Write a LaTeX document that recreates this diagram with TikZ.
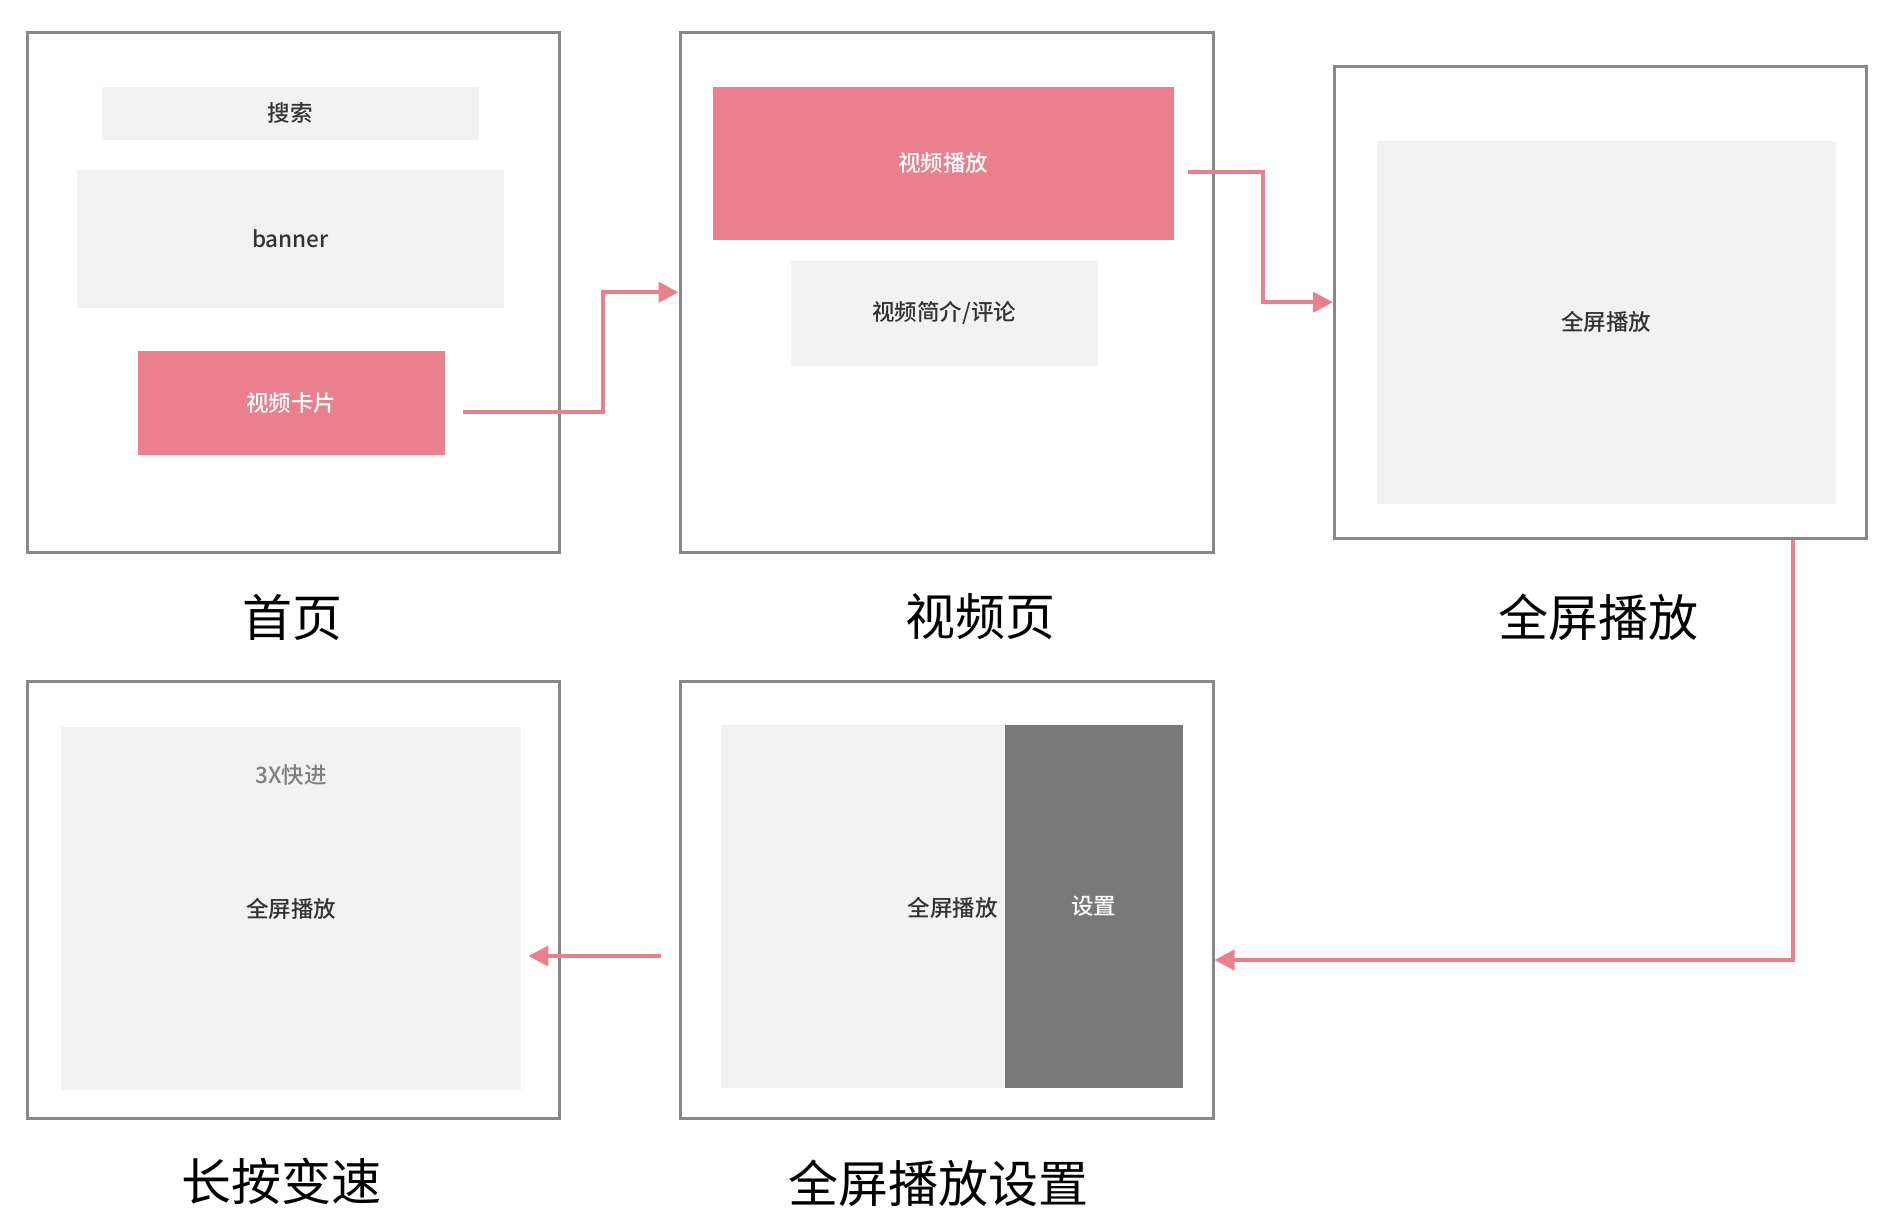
\documentclass[tikz,border=0pt]{standalone}
\usepackage{fontspec}
\setmainfont{Noto Sans CJK SC}
\newfontfamily\labelfont{Noto Sans CJK SC}[UprightFont={* Medium}]
\usetikzlibrary{arrows.meta}
\definecolor{framegray}{RGB}{136,136,136}
\definecolor{lightfill}{RGB}{242,242,242}
\definecolor{pinkfill}{RGB}{234,128,139}
\definecolor{darkfill}{RGB}{121,121,121}
\definecolor{textdark}{RGB}{51,51,51}
\definecolor{textgray}{RGB}{128,128,128}
\begin{document}
\begin{tikzpicture}[x=0.5pt,y=-0.5pt,
  frame/.style={draw=framegray,line width=1.5pt,fill=white,inner sep=0pt},
  lightbox/.style={fill=lightfill,draw=none,inner sep=0pt,text=textdark,font=\labelfont\fontsize{11.25pt}{13pt}\selectfont},
  pinkbox/.style={fill=pinkfill,draw=none,inner sep=0pt,text=white,font=\labelfont\fontsize{11.25pt}{13pt}\selectfont},
  darkbox/.style={fill=darkfill,draw=none,inner sep=0pt,text=white,font=\labelfont\fontsize{11.25pt}{13pt}\selectfont},
  smalltext/.style={inner sep=0pt,text=textdark,font=\labelfont\fontsize{11.25pt}{13pt}\selectfont},
  title/.style={inner sep=0pt,text=black,font=\fontsize{25pt}{30pt}\selectfont},
  flow/.style={draw=pinkfill,line width=2pt,-{Triangle[length=10pt,width=10pt]}}
]
\useasboundingbox (0,0) rectangle (1900,1222);

% frames
\node[frame,minimum width=266pt,minimum height=259.75pt] (box1) at (293,292.25) {};
\node[frame,minimum width=266.5pt,minimum height=259.75pt] (box2) at (946.5,292.25) {};
\node[frame,minimum width=266pt,minimum height=235.85pt] (box3) at (1600.5,302.2) {};
\node[frame,minimum width=266pt,minimum height=218.5pt] (box4) at (293,899.5) {};
\node[frame,minimum width=266.5pt,minimum height=218.5pt] (box5) at (946.5,899.5) {};

% box1 content
\node[lightbox,minimum width=188.3pt,minimum height=26.75pt] (search) at (290.3,113.25) {搜索};
\node[lightbox,minimum width=213.6pt,minimum height=69.25pt] (banner) at (290.4,238.75) {banner};
\node[pinkbox,minimum width=153.3pt,minimum height=52pt] (card) at (291.3,403) {视频卡片};

% box2 content
\node[pinkbox,minimum width=230.3pt,minimum height=76.5pt] (play) at (943.3,163) {视频播放};
\node[lightbox,minimum width=153.5pt,minimum height=52.25pt] (intro) at (944.2,313.25) {视频简介/评论};

% box3 content
\node[lightbox,minimum width=229.65pt,minimum height=181.3pt] (fs3) at (1606.2,322.3) {全屏播放};

% box4 content
\node[lightbox,minimum width=230.2pt,minimum height=181.5pt] (fs4) at (291.2,908.5) {};
\node[smalltext,text=textgray] (fast) at (291,775) {3X快进};
\node[smalltext] (fs4text) at (291,909) {全屏播放};

% box5 content
\node[lightbox,minimum width=141.8pt,minimum height=181.5pt] (fs5) at (863.2,906.2) {};
\node[darkbox,minimum width=88.8pt,minimum height=181.5pt] (set5) at (1093.8,906.5) {设置};
\node[smalltext,anchor=east] (fs5text) at (998,908) {全屏播放};

% titles
\node[title] (t1) at (292,617) {首页};
\node[title] (t2) at (980,617) {视频页};
\node[title] (t3) at (1598,617) {全屏播放};
\node[title] (t4) at (281,1181) {长按变速};
\node[title] (t5) at (938,1183) {全屏播放设置};

% connectors
\coordinate (a1) at ([xshift=9pt,yshift=-4.5pt]card.east);
\draw[flow] (a1) -- ++(139.6,0) |- (box2.west);

\coordinate (a2) at ([xshift=7.2pt,yshift=-4.5pt]play.east);
\draw[flow] (a2) -- ++(74.5,0) |- (box3.west);

\coordinate (a3) at ([xshift=96.25pt]box3.south);
\coordinate (a3e) at ([yshift=-30.25pt]box5.east);
\draw[flow] (a3) |- (a3e);

\coordinate (a4) at ([xshift=-9pt,yshift=-28.25pt]box5.west);
\coordinate (a4e) at ([xshift=3.3pt,yshift=-23.75pt]fs4.east);
\draw[flow] (a4) -- (a4e);
\end{tikzpicture}
\end{document}
